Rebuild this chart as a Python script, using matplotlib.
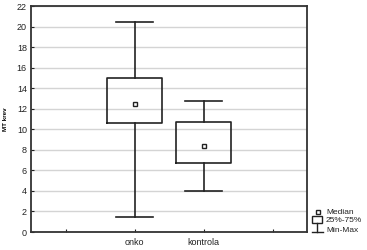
import matplotlib
matplotlib.use('Agg')
import matplotlib.pyplot as plt
from matplotlib.lines import Line2D
from matplotlib.patches import Rectangle

plt.rcParams['font.family'] = ['Liberation Sans', 'DejaVu Sans']

# data
groups = ['onko', 'kontrola']
positions = [2, 3]
mins = [1.5, 4.0]
q25 = [10.6, 6.75]
medians = [12.5, 8.4]
q75 = [15.0, 10.75]
maxs = [20.4, 12.8]
y_ticks = list(range(0, 23, 2))
legend_labels = ['Median', '25%-75%', 'Min-Max']

W, H = 367, 250
fig = plt.figure(figsize=(W / 100, H / 100), dpi=100, facecolor='white')
ax = fig.add_axes([31 / W, 18 / H, 276 / W, 226 / H])

ax.set_ylim(0, 22)
ax.set_xlim(0.5, 4.5)
ax.set_yticks(y_ticks)
ax.yaxis.grid(True, color='#d4d4d4', lw=1.0)
ax.set_axisbelow(True)

stats = []
for g, lo, a, m, b, hi in zip(groups, mins, q25, medians, q75, maxs):
    stats.append({'label': g, 'whislo': lo, 'q1': a, 'med': m, 'q3': b, 'whishi': hi, 'fliers': []})

ax.bxp(stats, positions=positions, widths=0.8, showfliers=False,
       boxprops=dict(color='#222222', lw=1.2),
       whiskerprops=dict(color='#222222', lw=1.2),
       capprops=dict(color='#222222', lw=1.2),
       capwidths=0.55,
       medianprops=dict(lw=0))
ax.plot(positions, medians, ls='none', marker='s', ms=3.2, mfc='white', mec='#222222', mew=1.0)

ax.set_xticks([1, 2, 3, 4])
ax.set_xticklabels(['', 'onko', 'kontrola', ''])
ax.tick_params(axis='both', direction='in', length=2, width=0.8, labelsize=6.5, colors='#222222', pad=3)
ax.tick_params(axis='x', pad=4)
for s in ax.spines.values():
    s.set_color('#333333')
    s.set_linewidth(1.3)

ax.set_ylabel('MT krev', fontsize=4.5, fontweight='bold')
ax.yaxis.set_label_coords(-23 / 276, 0.5)

# legend drawn by hand (pixel positions -> figure fraction)
def fx(x):
    return x / W

def fy(y):
    return 1 - y / H

k = '#222222'
fig.add_artist(Line2D([fx(318)], [fy(211.5)], ls='none', marker='s', ms=3, mfc='white', mec=k, mew=1.0))
fig.add_artist(Rectangle((fx(312), fy(223)), fx(10), 7 / H, fc='white', ec=k, lw=1.0))
fig.add_artist(Line2D([fx(317), fx(317)], [fy(223), fy(232)], color=k, lw=1.0))
fig.add_artist(Line2D([fx(311.5), fx(322.5)], [fy(232), fy(232)], color=k, lw=1.0))
for lab, y in zip(legend_labels, [212, 221, 230]):
    fig.text(fx(326), fy(y), lab, fontsize=6, va='center', ha='left', color=k)

fig.savefig('out.png', dpi=100, facecolor='white')
